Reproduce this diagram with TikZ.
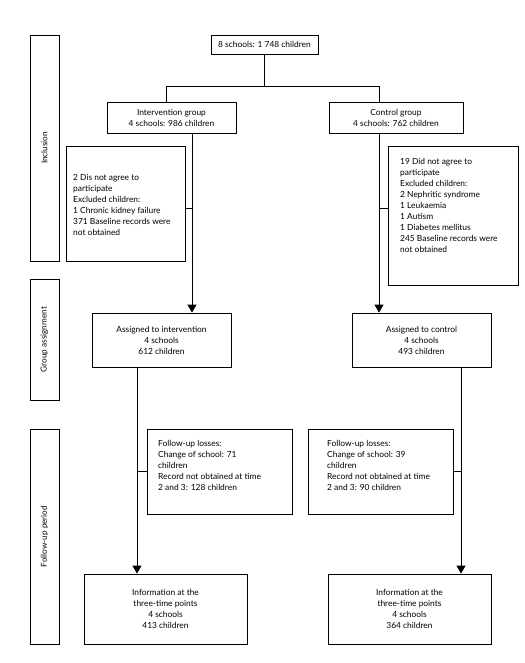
\documentclass[tikz,border=0pt]{standalone}
\usepackage{fontspec}
\setmainfont{Lato}
\usetikzlibrary{arrows.meta}
\begin{document}
\begin{tikzpicture}[x=1pt,y=-1pt,
 box/.style={draw,line width=0.8pt,inner sep=0pt,font=\fontsize{8.4}{11}\selectfont,align=center},
 ltxt/.style={font=\fontsize{8.4}{11}\selectfont,align=left,inner sep=0pt,anchor=north west},
 side/.style={draw,line width=0.8pt,inner sep=0pt,minimum width=29pt},
 sidetxt/.style={font=\fontsize{8.2}{11}\selectfont,rotate=90,inner sep=0pt},
 arr/.style={-{Triangle[width=9pt,length=8pt]},line width=0.8pt},
 ln/.style={line width=0.8pt}]
\useasboundingbox (0,0) rectangle (524,663);
% side label boxes
\node[side,minimum height=226pt] (s1) at (44.5,148) {};
\node[sidetxt] (s1t) at (s1.center) {Inclusion};
\node[side,minimum height=121pt] (s2) at (44.5,339.5) {};
\node[sidetxt] (s2t) at (s2.center) {Group assignment};
\node[side,minimum height=215pt] (s3) at (44.5,536.5) {};
\node[sidetxt] (s3t) at (s3.center) {Follow-up period};
% main boxes
\node[box,minimum width=107pt,minimum height=19pt] (top) at (264.5,44.5) {8 schools: 1 748 children};
\node[box,minimum width=129pt,minimum height=31pt] (int) at (171.5,117.5) {Intervention group\\4 schools: 986 children};
\node[box,minimum width=134pt,minimum height=31pt] (ctl) at (396,117.5) {Control group\\4 schools: 762 children};
\node[box,minimum width=119pt,minimum height=115pt] (exL) at (125.5,203.5) {};
\node[ltxt] (exLt) at (73,174) {2 Dis not agree to\\participate\\Excluded children:\\1 Chronic kidney failure\\371 Baseline records were\\not obtained};
\node[box,minimum width=130pt,minimum height=139pt] (exR) at (453,215.5) {};
\node[ltxt] (exRt) at (400,158) {19 Did not agree to\\participate\\Excluded children:\\2 Nephritic syndrome\\1 Leukaemia\\1 Autism\\1 Diabetes mellitus\\245 Baseline records were\\not obtained};
\node[box,minimum width=139pt,minimum height=54pt] (ai) at (161.5,340) {Assigned to intervention\\4 schools\\612 children};
\node[box,minimum width=139pt,minimum height=54pt] (ac) at (421.5,340) {Assigned to control\\4 schools\\493 children};
\node[box,minimum width=145pt,minimum height=85pt] (fL) at (219.5,471.5) {};
\node[ltxt] (fLt) at (158,440) {Follow-up losses:\\Change of school: 71\\children\\Record not obtained at time\\2 and 3: 128 children};
\node[box,minimum width=145pt,minimum height=85pt] (fR) at (380.5,471.5) {};
\node[ltxt] (fRt) at (327,440) {Follow-up losses:\\Change of school: 39\\children\\Record not obtained at time\\2 and 3: 90 children};
\node[box,minimum width=163pt,minimum height=70pt] (iL) at (165.5,609) {Information at the\\three-time points\\4 schools\\413 children};
\node[box,minimum width=163pt,minimum height=70pt] (iR) at (409.5,609) {Information at the\\three-time points\\4 schools\\364 children};
% connectors
\coordinate (jL) at (166,86);
\coordinate (jR) at (379,86);
\draw[ln] (top.south) |- (jL) -- (jL |- int.north);
\draw[ln] (top.south) |- (jR) -- (jR |- ctl.north);
\coordinate (xL) at (192,208);
\coordinate (xR) at (379,208);
\draw[arr] (int.south -| xL) -- (ai.north -| xL);
\draw[arr] (ctl.south -| xR) -- (ac.north -| xR);
\draw[ln] (xL) -- (xL -| exL.east);
\draw[ln] (xR) -- (xR -| exR.west);
\coordinate (yL) at (137,471);
\coordinate (yR) at (461,471);
\draw[arr] (ai.south -| yL) -- (iL.north -| yL);
\draw[arr] (ac.south -| yR) -- (iR.north -| yR);
\draw[ln] (yL) -- (yL -| fL.west);
\draw[ln] (yR) -- (yR -| fR.east);
\end{tikzpicture}
\end{document}
